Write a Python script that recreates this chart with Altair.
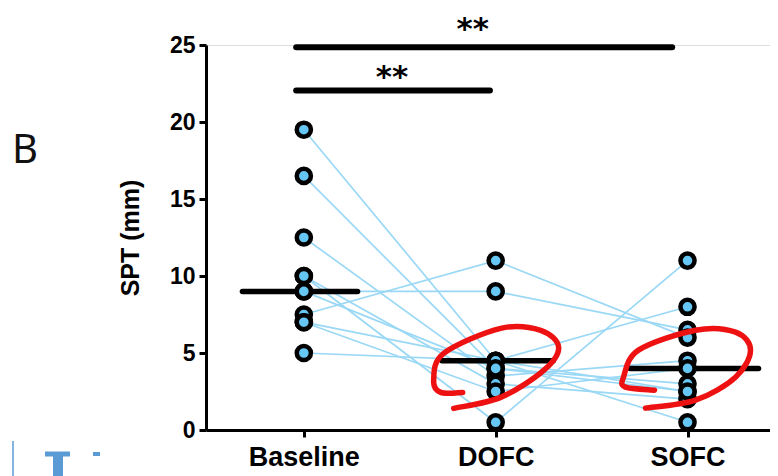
import altair as alt
import pandas as pd

# ---------------- data ----------------
categories = ["Baseline", "DOFC", "SOFC"]
baseline = [19.5, 16.5, 12.5, 10, 10, 9, 7.5, 7, 7, 5, 9]
dofc     = [4.5, 4, 3.5, 3, 0.5, 9, 11, 4.5, 2.5, 4.5, 4]
sofc     = [2.5, 3, 4.5, 2, 11, 6.5, 6, 8, 4, 0.5, 2.5]
medians  = [9, 4.5, 4]
sig_from = [0, 0]
sig_to   = [2, 1]
sig_text = ["**", "**"]
sig_level = [24.85, 22.05]
ellipse_cat = [1, 2]
ellipse_val = [4.0, 3.95]

# ---------------- styles ----------------
FILL = "#66C7F4"
LINE = "#9AD8F5"
RED = "#EE1111"
FONT = "Liberation Sans"

rows = []
for s, vals in enumerate(zip(baseline, dofc, sofc)):
    for i, v in enumerate(vals):
        rows.append({"subject": s, "pos": i, "value": v})
df = pd.DataFrame(rows)

med_df = pd.DataFrame({"y": medians})
med_df["x"] = [-0.32, 1 - 0.28, 2 - 0.3]
med_df["x2"] = [0.28, 1.3, 2.37]

sig_df = pd.DataFrame({"y": sig_level, "label": sig_text})
sig_df["x"] = [a - 0.04 for a in sig_from]
sig_df["x2"] = [b - 0.08 if b == 2 else b - 0.03 for b in sig_to]
sig_df["tx"] = [0.88, 0.46]
sig_df["ty"] = [25.39, 22.3]


def cr_path(pts, scale):
    P = [pts[0]] + pts + [pts[-1]]
    f = lambda p: f"{p[0]/scale:.3f},{p[1]/scale:.3f}"
    s = "M" + f(pts[0])
    for i in range(1, len(P) - 2):
        p0, p1, p2, p3 = P[i - 1], P[i], P[i + 1], P[i + 2]
        c1 = (p1[0] + (p2[0] - p0[0]) / 6, p1[1] + (p2[1] - p0[1]) / 6)
        c2 = (p2[0] - (p3[0] - p1[0]) / 6, p2[1] - (p3[1] - p1[1]) / 6)
        s += "C" + f(c1) + " " + f(c2) + " " + f(p2)
    return s


loop1 = [(-33, 24), (-55, 24), (-62, 12), (-52, -15), (5, -40), (45, -38),
         (63, -21), (48, 2), (5, 29), (-42, 40)]
loop2 = [(-33, 21), (-62, 18), (-64, 8), (-49, -19), (8, -39), (48, -37),
         (63, -19), (48, 8), (8, 31), (-42, 39)]
SC = 64
path1 = cr_path(loop1, SC)
path2 = cr_path(loop2, SC)
ell_size = (2 * SC) ** 2

xscale = alt.Scale(domain=[-0.51, 2.43], nice=False, zero=False)
yscale = alt.Scale(domain=[0, 25], nice=False)

xaxis = alt.Axis(values=[0, 1, 2], labelExpr="['Baseline','DOFC','SOFC'][datum.value]",
                 title=None, grid=False, domainColor="black", domainWidth=3,
                 tickColor="black", tickWidth=3, tickSize=7, labelFont=FONT,
                 labelFontSize=27, labelFontWeight="bold", labelColor="black",
                 labelPadding=7, labelFlush=False)
yaxis = alt.Axis(values=[0, 5, 10, 15, 20, 25], title="SPT (mm)", grid=False,
                 domainColor="black", domainWidth=3, tickColor="black", tickWidth=3,
                 tickSize=7, labelFont=FONT, labelFontSize=23, labelFontWeight="bold",
                 labelColor="black", labelPadding=4, titleFont=FONT, titleFontSize=25,
                 titleFontWeight="bold", titleColor="black", titlePadding=26)

lines = alt.Chart(df).mark_line(color=LINE, strokeWidth=1.7).encode(
    x=alt.X("pos:Q", scale=xscale, axis=xaxis),
    y=alt.Y("value:Q", scale=yscale, axis=yaxis),
    detail="subject:N",
    order="pos:Q",
)

meds = alt.Chart(med_df).mark_rule(color="black", strokeWidth=5.5, strokeCap="round").encode(
    x=alt.X("x:Q", scale=xscale), x2="x2", y=alt.Y("y:Q", scale=yscale))

pts = alt.Chart(df).mark_point(filled=True, fill=FILL, stroke="black", strokeWidth=4.5,
                               size=200, opacity=1, shape="circle").encode(
    x=alt.X("pos:Q", scale=xscale), y=alt.Y("value:Q", scale=yscale))

sig_bars = alt.Chart(sig_df).mark_rule(color="black", strokeWidth=6, strokeCap="round").encode(
    x=alt.X("x:Q", scale=xscale), x2="x2", y=alt.Y("y:Q", scale=yscale))

sig_lbl = alt.Chart(sig_df).mark_text(font="DejaVu Sans", fontSize=31, fontWeight="bold",
                                      color="black", baseline="alphabetic").encode(
    x=alt.X("tx:Q", scale=xscale), y=alt.Y("ty:Q", scale=yscale), text="label:N")

ell_df = pd.DataFrame({"x": ellipse_cat, "y": ellipse_val})
ell1 = alt.Chart(ell_df.iloc[[0]]).mark_point(shape=path1, size=ell_size, filled=False,
                                             stroke=RED, strokeWidth=5.5, opacity=1,
                                             strokeCap="round").encode(
    x=alt.X("x:Q", scale=xscale), y=alt.Y("y:Q", scale=yscale))
ell2 = alt.Chart(ell_df.iloc[[1]]).mark_point(shape=path2, size=ell_size, filled=False,
                                             stroke=RED, strokeWidth=5.5, opacity=1,
                                             strokeCap="round").encode(
    x=alt.X("x:Q", scale=xscale), y=alt.Y("y:Q", scale=yscale))

panel = alt.Chart(pd.DataFrame({"t": ["B"]})).mark_text(
    font="Noto Sans", fontSize=40, color="#111", align="left", baseline="alphabetic").encode(
    x=alt.value(12 - 206), y=alt.value(163 - 45), text="t:N")

# partial blue glyph cut off at the bottom-left edge of the reference image
BLUE = "#5B9BD5"
frag_serif = alt.Chart(pd.DataFrame({"a": [0]})).mark_rule(color=BLUE, strokeWidth=5).encode(
    x=alt.value(45 - 206), x2=alt.value(70 - 206), y=alt.value(454 - 45))
frag_stem = alt.Chart(pd.DataFrame({"a": [0]})).mark_rule(color=BLUE, strokeWidth=10).encode(
    x=alt.value(58 - 206), y=alt.value(452 - 45), y2=alt.value(490 - 45))
frag_bit = alt.Chart(pd.DataFrame({"a": [0]})).mark_rule(color=BLUE, strokeWidth=4).encode(
    x=alt.value(93 - 206), x2=alt.value(100 - 206), y=alt.value(454 - 45))
frag_line = alt.Chart(pd.DataFrame({"a": [0]})).mark_rule(color=BLUE, strokeWidth=1.5).encode(
    x=alt.value(13 - 206), y=alt.value(441 - 45), y2=alt.value(490 - 45))

chart = alt.layer(lines, meds, pts, sig_bars, sig_lbl, ell1, ell2, panel,
                  frag_serif, frag_stem, frag_bit, frag_line).properties(
    width=564, height=385,
    padding={"left": 198, "top": 37, "right": 0, "bottom": 46},
    autosize=alt.AutoSizeParams(type="none"),
).configure_view(stroke=None).configure(background="white")

chart.save("out.html", embed_options={"renderer": "svg", "actions": False})
